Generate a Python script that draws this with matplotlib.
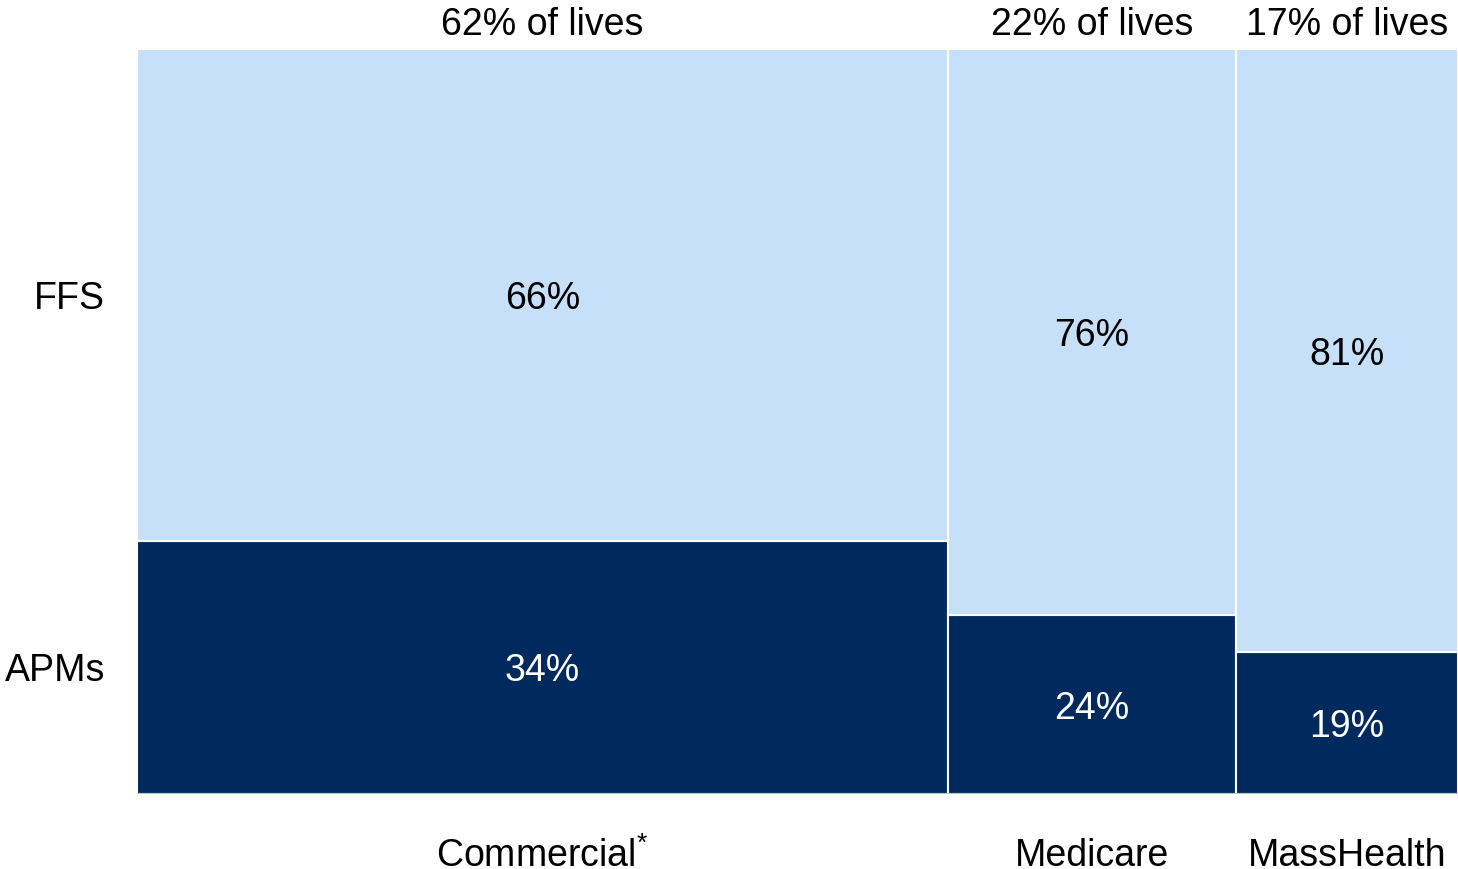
import matplotlib
matplotlib.use("Agg")
import matplotlib.pyplot as plt
import matplotlib.transforms as mtrans
import numpy as np

plt.rcParams['font.family'] = ['Liberation Sans', 'DejaVu Sans']
plt.rcParams['mathtext.fontset'] = 'custom'
plt.rcParams['mathtext.rm'] = 'Liberation Sans'

# Payer mix: share of lives (column widths) and FFS / APM split within each payer
payers = ["Commercial", "Medicare", "MassHealth"]
lives = [62, 22, 17]
ffs = [66, 76, 81]
apms = [34, 24, 19]

light = "#C6E0FA"
dark = "#00295E"
fs = 27

fig = plt.figure(figsize=(14.58, 8.70), dpi=100)
ax = fig.add_axes([137/1458, 75/870, 1 - 137/1458, 745/870])

left = np.concatenate([[0], np.cumsum(lives)[:-1]])
ax.bar(left, apms, width=lives, align="edge", color=dark,
       edgecolor="white", linewidth=1.5)
ax.bar(left, ffs, width=lives, bottom=apms, align="edge", color=light,
       edgecolor="white", linewidth=1.5)

# nudge labels down a few pixels so the glyphs sit visually centred
tdata = mtrans.offset_copy(ax.transData, fig=fig, y=-3, units="dots")
tyax = mtrans.offset_copy(ax.get_yaxis_transform(), fig=fig, y=-3, units="dots")

centers = left + np.array(lives) / 2
for c, a, f, w in zip(centers, apms, ffs, lives):
    ax.text(c, a / 2, f"{a}%", ha="center", va="center", color="white",
            fontsize=fs, transform=tdata)
    ax.text(c, a + f / 2, f"{f}%", ha="center", va="center", color="black",
            fontsize=fs, transform=tdata)
    ax.text(c, 103.8, f"{w}% of lives", ha="center", va="center",
            fontsize=fs, transform=tdata)

xlabels = ["Commercial$^{*}$", "Medicare", "MassHealth"]
for c, lab in zip(centers, xlabels):
    ax.text(c, -7.8, lab, ha="center", va="center", fontsize=fs, transform=tdata)

# row labels line up with the Commercial column segments
ax.text(-0.024, apms[0] + ffs[0] / 2, "FFS", ha="right", va="center",
        fontsize=fs, transform=tyax)
ax.text(-0.024, apms[0] / 2, "APMs", ha="right", va="center",
        fontsize=fs, transform=tyax)

ax.set_xlim(0, sum(lives))
ax.set_ylim(0, 100)
ax.axhline(0, color="#BFBFBF", linewidth=1.5)
for s in ax.spines.values():
    s.set_visible(False)
ax.set_xticks([])
ax.set_yticks([])

fig.savefig("out.png", dpi=100)
